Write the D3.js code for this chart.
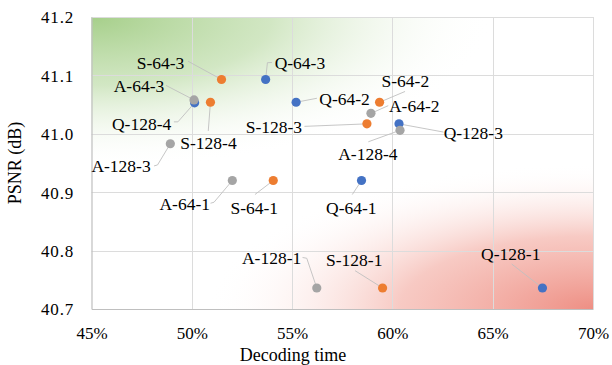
<!DOCTYPE html>
<html>
<head>
<meta charset="utf-8">
<script src="https://cdn.jsdelivr.net/npm/d3@7"></script>
<style>
  html, body { margin: 0; padding: 0; background: #fff; }
  svg { display: block; font-family: "Liberation Serif", "Times New Roman", serif; }
</style>
</head>
<body>
<svg id="chart" width="612" height="365"></svg>
<script>
// Decoding time (fraction of baseline) vs PSNR, three method families
const qNames = ["Q-64-3", "Q-128-4", "Q-64-2", "Q-128-3", "Q-64-1", "Q-128-1"];
const qTime  = [0.5368, 0.5014, 0.5520, 0.6033, 0.5846, 0.6748];
const qPsnr  = [41.093, 41.053, 41.054, 41.017, 40.920, 40.736];

const sNames = ["S-64-3", "S-128-4", "S-64-2", "S-128-3", "S-64-1", "S-128-1"];
const sTime  = [0.5148, 0.5093, 0.5936, 0.5873, 0.5406, 0.5951];
const sPsnr  = [41.093, 41.054, 41.054, 41.017, 40.920, 40.736];

const aNames = ["A-64-3", "A-128-3", "A-64-2", "A-128-4", "A-64-1", "A-128-1"];
const aTime  = [0.5011, 0.4893, 0.5893, 0.6038, 0.5202, 0.5623];
const aPsnr  = [41.058, 40.983, 41.035, 41.006, 40.920, 40.736];

const xTicks = [0.45, 0.50, 0.55, 0.60, 0.65, 0.70];
const yTicks = [40.7, 40.8, 40.9, 41.0, 41.1, 41.2];

// Label placement relative to each point: label centre (dx, dy),
// leader start (lx, ly) and an optional elbow (ex, ey).
const labelLayout = {
  "S-64-3":  { dx: -61,   dy: -17,   lx: -33.5, ly: -18.3 },
  "Q-64-3":  { dx: 34.3,  dy: -17,   lx: 6.3,   ly: -17,   ex: 1.8,   ey: -16.8 },
  "A-64-3":  { dx: -55,   dy: -14,   lx: -28,   ly: -14.5 },
  "Q-128-4": { dx: -53,   dy: 21,    lx: -20.7, ly: 19,    ex: -16.7, ey: 19 },
  "S-128-4": { dx: -2,    dy: 41,    lx: -2.2,  ly: 28.7 },
  "A-128-3": { dx: -49.3, dy: 21.9,  lx: -16.3, ly: 22.2,  ex: -12.8, ey: 21.2 },
  "S-128-3": { dx: -93,   dy: 2.7,   lx: -62.5, ly: 2.5 },
  "Q-64-2":  { dx: 48.5,  dy: -3,    lx: 20.8,  ly: -4 },
  "S-64-2":  { dx: 25.8,  dy: -21.6, lx: 25.5,  ly: -10.8 },
  "A-64-2":  { dx: 43.3,  dy: -7.2,  lx: 17.3,  ly: -7.7 },
  "Q-128-3": { dx: 74.3,  dy: 9.5,   lx: 44.5,  ly: 8.2 },
  "A-128-4": { dx: -32.2, dy: 23.3,  lx: -31.7, ly: 11.5 },
  "A-64-1":  { dx: -47.6, dy: 23,    lx: -21.8, ly: 22.7,  ex: -18.3, ey: 21.7 },
  "S-64-1":  { dx: -19,   dy: 27.4,  lx: -18.3, ly: 14 },
  "Q-64-1":  { dx: -10.2, dy: 27,    lx: -9.2,  ly: 14 },
  "A-128-1": { dx: -45.2, dy: -29.7, lx: -14.2, ly: -30.5, ex: -10,   ey: -29.7 },
  "S-128-1": { dx: -28.3, dy: -28,   lx: -27.5, ly: -17.3 },
  "Q-128-1": { dx: -31.7, dy: -34,   lx: -30.8, ly: -24 }
};

const series = [
  { names: qNames, time: qTime, psnr: qPsnr, color: "#4472c4" },
  { names: sNames, time: sTime, psnr: sPsnr, color: "#ed7d31" },
  { names: aNames, time: aTime, psnr: aPsnr, color: "#a5a5a5" }
];

const svg = d3.select("#chart");
const plot = { left: 91.5, right: 593, top: 17, bottom: 309 };

const x = d3.scaleLinear().domain([0.45, 0.70]).range([plot.left, plot.right]);
const y = d3.scaleLinear().domain([40.7, 41.2]).range([plot.bottom, plot.top]);

// Corner washes: green towards low time / high PSNR, red towards the opposite corner
const defs = svg.append("defs");
const pw = plot.right - plot.left, ph = plot.bottom - plot.top;

function cornerWash(id, cx, cy, rx, ry, stops) {
  const g = defs.append("radialGradient")
    .attr("id", id).attr("gradientUnits", "userSpaceOnUse")
    .attr("cx", cx).attr("cy", cy).attr("r", 1)
    .attr("gradientTransform", `translate(${cx},${cy}) scale(${rx},${ry}) translate(${-cx},${-cy})`);
  stops.forEach(([o, c, a]) => g.append("stop").attr("offset", o).attr("stop-color", c).attr("stop-opacity", a));
  svg.append("rect").attr("x", plot.left).attr("y", plot.top).attr("width", pw).attr("height", ph)
    .attr("fill", `url(#${id})`);
}

cornerWash("washGreen", plot.left, plot.top, pw * 0.8, ph * 0.52, [
  [0, "#a6cf8a", 1], [0.45, "#c3dfb0", 0.75], [1, "#ffffff", 0]
]);
cornerWash("washRed", plot.right, plot.bottom, pw * 0.77, ph * 0.5, [
  [0, "#ee8f84", 1], [0.5, "#f4b3aa", 0.7], [1, "#ffffff", 0]
]);

// Gridlines
const grid = svg.append("g").attr("stroke", "#dcdcdc").attr("stroke-width", 1);
grid.selectAll("line.v").data(xTicks.slice(1)).join("line")
  .attr("x1", d => Math.round(x(d)) + 0.5).attr("x2", d => Math.round(x(d)) + 0.5)
  .attr("y1", plot.top).attr("y2", plot.bottom);
grid.selectAll("line.h").data(yTicks.slice(1)).join("line")
  .attr("x1", plot.left).attr("x2", plot.right)
  .attr("y1", d => Math.round(y(d)) + 0.5).attr("y2", d => Math.round(y(d)) + 0.5);

// Axes
const xAxis = d3.axisBottom(x).tickValues(xTicks).tickFormat(d3.format(".0%")).tickSize(0).tickPadding(0);
const yAxis = d3.axisLeft(y).tickValues(yTicks).tickFormat(d3.format(".1f")).tickSize(0).tickPadding(0);

const gx = svg.append("g").attr("transform", `translate(0,${plot.bottom})`).call(xAxis);
gx.select(".domain").attr("stroke", "#bfbfbf").attr("stroke-width", 1.2);
gx.selectAll("text").attr("y", 24).attr("dy", "0.35em")
  .attr("font-size", 17).attr("fill", "#000").attr("font-family", "Liberation Serif");

const gy = svg.append("g").attr("transform", `translate(${plot.left},0)`).call(yAxis);
gy.select(".domain").attr("stroke", "#bfbfbf").attr("stroke-width", 1.2);
gy.selectAll("text").attr("x", 74 - plot.left).attr("dy", "0.35em")
  .attr("font-size", 17).attr("letter-spacing", 0.8).attr("fill", "#000").attr("font-family", "Liberation Serif");

svg.append("text").attr("x", 293).attr("y", 355).attr("dy", "0.35em")
  .attr("text-anchor", "middle").attr("font-size", 18).text("Decoding time");
svg.append("text").attr("transform", "translate(15,163) rotate(-90)").attr("dy", "0.35em")
  .attr("text-anchor", "middle").attr("font-size", 18).text("PSNR (dB)");

// Flatten points for leaders, labels and dots
const points = series.flatMap(s => s.names.map((n, i) => ({
  name: n, t: s.time[i], p: s.psnr[i], color: s.color
})));

const leaders = svg.append("g").attr("fill", "none").attr("stroke", "#bfbfbf").attr("stroke-width", 0.9);
points.forEach(d => {
  const L = labelLayout[d.name];
  const px = x(d.t), py = y(d.p);
  const pts = [[px + L.lx, py + L.ly]];
  if (L.ex !== undefined) pts.push([px + L.ex, py + L.ey]);
  pts.push([px, py]);
  leaders.append("path").attr("d", d3.line()(pts));
});

svg.append("g").selectAll("circle").data(points).join("circle")
  .attr("cx", d => x(d.t)).attr("cy", d => y(d.p)).attr("r", 4.6)
  .attr("fill", d => d.color);

svg.append("g").selectAll("text").data(points).join("text")
  .attr("x", d => x(d.t) + labelLayout[d.name].dx)
  .attr("y", d => y(d.p) + labelLayout[d.name].dy)
  .attr("dy", "0.35em").attr("text-anchor", "middle")
  .attr("font-size", 17.5).attr("fill", "#000")
  .text(d => d.name);
</script>
</body>
</html>
